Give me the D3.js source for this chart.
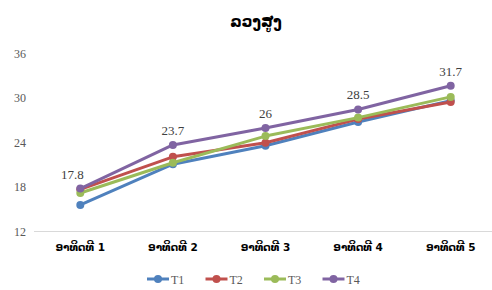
<!DOCTYPE html>
<html>
<head>
<meta charset="utf-8">
<script src="https://cdn.jsdelivr.net/npm/d3@7"></script>
<style>
body{margin:0;background:#fff;}
svg{display:block;}
</style>
</head>
<body>
<script>
// chart data
var weeks=["ອາທິດທີ 1","ອາທິດທີ 2","ອາທິດທີ 3","ອາທິດທີ 4","ອາທິດທີ 5"];
var seriesNames=["T1","T2","T3","T4"];
var t1=[15.6,21.1,23.6,26.8,29.7];
var t2=[17.7,22.1,24.0,27.2,29.5];
var t3=[17.2,21.3,24.9,27.4,30.2];
var t4=[17.8,23.7,26,28.5,31.7];
var yTicks=[12,18,24,30,36];
var colors=["#4F81BD","#C0504D","#9BBB59","#8064A2"];

var width=492,height=290;
var serif="'Liberation Serif','Times New Roman','DejaVu Serif',serif";
var svg=d3.select("body").append("svg").attr("width",width).attr("height",height);

var x=d3.scaleBand().domain(weeks).range([34,497]);
var y=d3.scaleLinear().domain([12,36]).range([231.5,54]);

// title
svg.append("text").attr("x",256).attr("y",27).attr("text-anchor","middle")
  .attr("font-family","'DejaVu Sans','Noto Sans',sans-serif").attr("font-size",15).attr("font-weight","bold")
  .attr("fill","#000").text("ລວງສູງ");

// y axis labels
svg.selectAll(".ylab").data(yTicks).enter().append("text")
  .attr("x",26).attr("y",function(d){return y(d)+4})
  .attr("text-anchor","end")
  .attr("font-family",serif).attr("font-size",12)
  .attr("fill","#595959").text(function(d){return d});

// bottom axis line
svg.append("line").attr("x1",34).attr("x2",492).attr("y1",y(12)).attr("y2",y(12))
  .attr("stroke","#d9d9d9").attr("stroke-width",1);

// category labels
svg.selectAll(".xlab").data(weeks).enter().append("text")
  .attr("x",function(d){return x(d)+x.bandwidth()/2})
  .attr("y",251).attr("text-anchor","middle")
  .attr("font-family","'DejaVu Sans','Noto Sans',sans-serif").attr("font-size",10.5).attr("font-weight","bold")
  .attr("fill","#000").text(function(d){return d});

var all=[t1,t2,t3,t4];
var line=d3.line().x(function(d,i){return x(weeks[i])+x.bandwidth()/2}).y(function(d){return y(d)});

all.forEach(function(vals,k){
  svg.append("path").datum(vals).attr("d",line).attr("fill","none")
    .attr("stroke",colors[k]).attr("stroke-width",3).attr("stroke-linejoin","round");
  svg.selectAll(".pt"+k).data(vals).enter().append("circle")
    .attr("cx",function(d,i){return x(weeks[i])+x.bandwidth()/2})
    .attr("cy",function(d){return y(d)}).attr("r",4)
    .attr("fill",colors[k]);
});

// data labels on T4
svg.selectAll(".dlab").data(t4).enter().append("text")
  .attr("x",function(d,i){return x(weeks[i])+x.bandwidth()/2 + (i==0?-8:0)})
  .attr("y",function(d){return y(d)-10})
  .attr("text-anchor","middle")
  .attr("font-family",serif).attr("font-size",13)
  .attr("fill","#404040").text(function(d){return d});

// legend
var lg=svg.selectAll(".lg").data(seriesNames).enter().append("g")
  .attr("transform",function(d,i){return "translate("+(147+i*58.5)+",279)"});
lg.append("line").attr("x1",0).attr("x2",22).attr("stroke",function(d,i){return colors[i]}).attr("stroke-width",3);
lg.append("circle").attr("cx",11).attr("r",4).attr("fill",function(d,i){return colors[i]});
lg.append("text").attr("x",24).attr("y",4.5)
  .attr("font-family",serif).attr("font-size",12)
  .attr("fill","#595959").text(function(d){return d});
</script>
</body>
</html>
